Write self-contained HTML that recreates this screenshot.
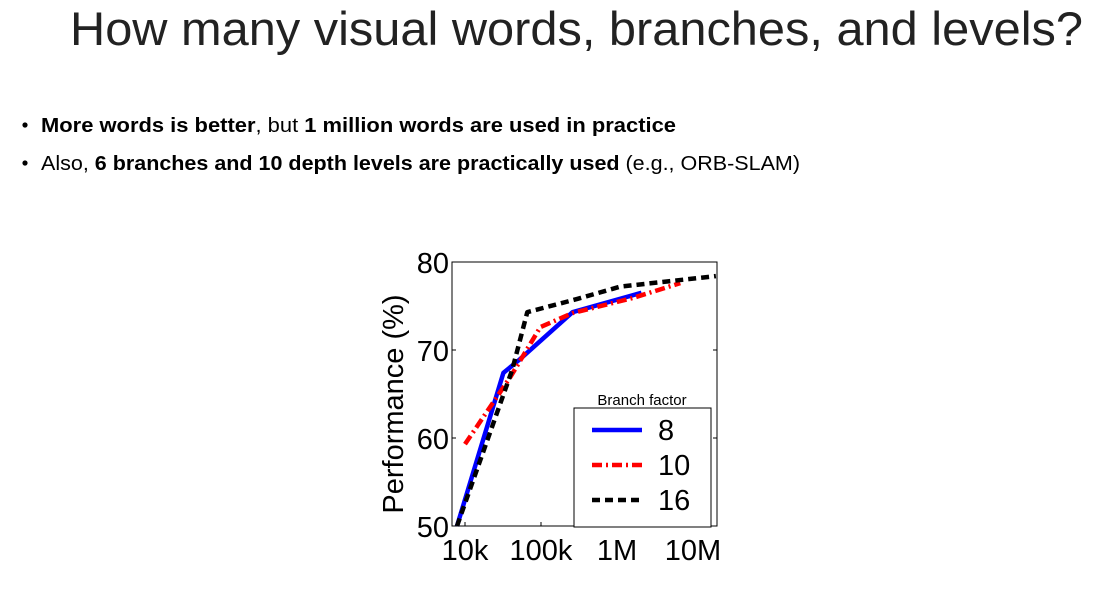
<!DOCTYPE html>
<html><head><meta charset="utf-8"><style>
html,body{margin:0;padding:0;background:#fff;}
svg{display:block;font-family:"Liberation Sans",sans-serif;}
</style></head><body>
<svg id="chart" width="1099" height="590" viewBox="0 0 1099 590">
<text x="70" y="45" font-size="47" fill="#222" textLength="1013" lengthAdjust="spacingAndGlyphs">How many visual words, branches, and levels?</text>
<circle cx="25" cy="125" r="2.6" fill="#000"/>
<text x="41" y="132" font-size="20" fill="#000" textLength="635" lengthAdjust="spacingAndGlyphs"><tspan font-weight="bold">More words is better</tspan>, but <tspan font-weight="bold">1 million words are used in practice</tspan></text>
<circle cx="25" cy="163" r="2.6" fill="#000"/>
<text x="41" y="170" font-size="20" fill="#000" textLength="759" lengthAdjust="spacingAndGlyphs">Also, <tspan font-weight="bold">6 branches and 10 depth levels are practically used</tspan> (e.g., ORB-SLAM)</text>
<g id="plot"></g>
</svg>
<script>
const yTicks=[50,60,70,80];
const xTickVals=[1e4,1e5,1e6,1e7];
const xTickLabels=["10k","100k","1M","10M"];
const seriesNames=["8","10","16"];
const x8=[7.85e3,3.2e4,5.2e4,2.6e5,2.1e6];
const y8=[50,67.4,68.9,74.3,76.5];
const x10=[1e4,4.0e4,9.8e4,2.6e5,1.6e6,6.8e6];
const y10=[59.3,67.0,72.6,74.2,75.9,77.6];
const x16=[7.85e3,4.2e4,6.6e4,3.0e5,1.1e6,2.0e7];
const y16=[50,67.8,74.3,75.8,77.2,78.4];

const L=452,R=717,T=262,B=526;
const xmin=Math.log10(1e4)-13/76, xmax=Math.log10(1e7)+24/76;
const X=v=>L+(Math.log10(v)-xmin)/(xmax-xmin)*(R-L);
const Y=v=>B-(v-50)/30*(B-T);
const ns="http://www.w3.org/2000/svg";
const g=document.getElementById('plot');
function mk(t,a){const e=document.createElementNS(ns,t);for(const k in a)e.setAttribute(k,a[k]);g.appendChild(e);return e;}

const frame=mk('rect',{x:L,y:T,width:R-L,height:B-T,fill:'none',stroke:'#000','stroke-width':1});



yTicks.forEach(v=>{
  const t=mk('line',{x1:L,x2:L+4,y1:Y(v),y2:Y(v),stroke:'#000'});
  
  
  const t2=mk('line',{x1:R,x2:R-4,y1:Y(v),y2:Y(v),stroke:'#000'});
  
  
  const lb=mk('text',{x:L-3,y:Y(v)+11,'font-size':29,'text-anchor':'end',fill:'#000'});
  lb.textContent=v;
  
  
});
xTickVals.forEach((v,i)=>{
  const t=mk('line',{x1:X(v),x2:X(v),y1:B,y2:B-4,stroke:'#000'});
  
  
  const lb=mk('text',{x:X(v),y:B+34,'font-size':29,'text-anchor':'middle',fill:'#000'});
  lb.textContent=xTickLabels[i];
  
  
});
const yt=mk('text',{x:0,y:0,'font-size':29,'text-anchor':'middle',fill:'#000',transform:`translate(403,${(T+B)/2+10}) rotate(-90)`});
yt.textContent='Performance (%)';



const styles=[{c:'#0000ff',d:'',w:4.5},{c:'#ff0000',d:'10 4 2 4',w:4.5},{c:'#000',d:'8 5',w:4.5}];
function line(xs,ys,s,name){
  const p=mk('polyline',{points:xs.map((v,i)=>X(v)+','+Y(ys[i])).join(' '),fill:'none',stroke:s.c,'stroke-width':s.w,'stroke-dasharray':s.d,'stroke-linejoin':'round'});
  
  
}
line(x8,y8,styles[0],'series-8');
line(x10,y10,styles[1],'series-10');
line(x16,y16,styles[2],'series-16');

const lgTitle=mk('text',{x:642,y:405,'font-size':15,'text-anchor':'middle',fill:'#000'});
lgTitle.textContent='Branch factor';


const lg=mk('rect',{x:574,y:408,width:137,height:119,fill:'#fff',stroke:'#000'});


seriesNames.forEach((n,i)=>{
  const yy=430+i*35;
  const l=mk('line',{x1:592,x2:642,y1:yy,y2:yy,stroke:styles[i].c,'stroke-width':4.5,'stroke-dasharray':styles[i].d});
  
  
  const t=mk('text',{x:658,y:yy+10,'font-size':29,fill:'#000'});
  t.textContent=n;
  
  
});
</script>
</body></html>
